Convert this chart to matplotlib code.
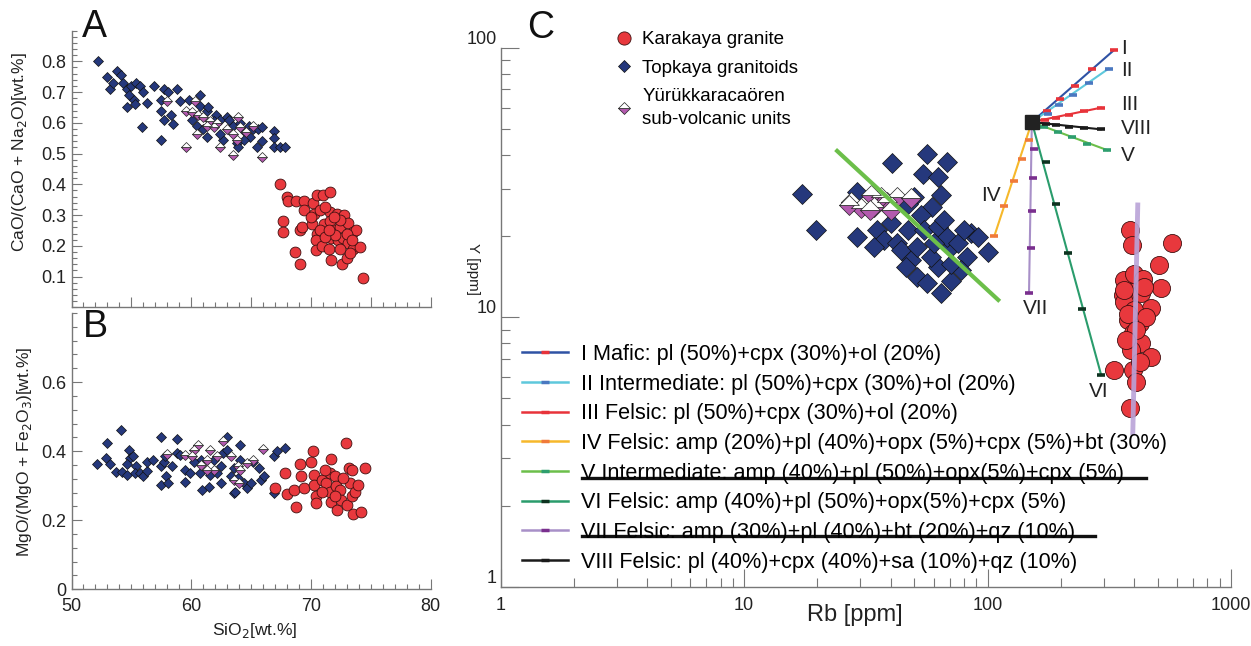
import numpy as np
import matplotlib.pyplot as plt
from matplotlib.lines import Line2D
from matplotlib.ticker import MultipleLocator, LogLocator, NullFormatter

plt.rcParams['font.family'] = ['Liberation Sans', 'DejaVu Sans']

# ---- panel A : SiO2 vs CaO/(CaO+Na2O) ----
topkaya_A = [(52.2, 0.80), (53.0, 0.75), (53.2, 0.71), (53.8, 0.77), (54.1, 0.755), (53.5, 0.73),
             (54.3, 0.73), (54.6, 0.71), (55.0, 0.72), (55.4, 0.73), (55.7, 0.72), (54.8, 0.69),
             (55.2, 0.675), (54.6, 0.65), (55.3, 0.66), (56.0, 0.70), (56.3, 0.665), (55.9, 0.585),
             (56.9, 0.72), (57.7, 0.71), (58.1, 0.70), (58.8, 0.71), (57.5, 0.675), (57.5, 0.64),
             (58.3, 0.625), (57.7, 0.61), (58.5, 0.595), (57.5, 0.545), (59.1, 0.67), (59.8, 0.675),
             (60.7, 0.69), (60.7, 0.655), (61.3, 0.64), (61.4, 0.65), (60.5, 0.59), (61.0, 0.58),
             (61.3, 0.555), (62.1, 0.625), (62.4, 0.61), (63.0, 0.62), (63.2, 0.61), (62.7, 0.545),
             (63.5, 0.59), (64.1, 0.60), (63.8, 0.535), (63.9, 0.52), (64.5, 0.57), (64.8, 0.59),
             (64.9, 0.555), (65.2, 0.58), (65.6, 0.58), (65.9, 0.585), (65.5, 0.52), (65.9, 0.54),
             (66.9, 0.575), (66.9, 0.55), (66.9, 0.52), (67.4, 0.52), (67.8, 0.52), (62.4, 0.565),
             (61.9, 0.605), (60.1, 0.61), (64.4, 0.545)]
subvolc_A = [(59.6, 0.52), (60.3, 0.67), (59.6, 0.64), (60.1, 0.635), (60.6, 0.625), (61.0, 0.62),
             (61.6, 0.605), (60.5, 0.565), (62.4, 0.52), (63.5, 0.495), (63.9, 0.62), (64.1, 0.585),
             (64.6, 0.57), (65.2, 0.59), (65.9, 0.49), (58.0, 0.67), (61.9, 0.585), (63.0, 0.58),
             (62.2, 0.60), (63.5, 0.565), (63.8, 0.545), (61.3, 0.59)]
karakaya_A = [(67.4, 0.40), (68.0, 0.36), (68.1, 0.345), (68.8, 0.345), (69.4, 0.345), (69.4, 0.315),
              (67.7, 0.28), (67.7, 0.245), (68.7, 0.18), (69.1, 0.14), (69.1, 0.25), (69.3, 0.26),
              (70.2, 0.34), (70.5, 0.365), (71.0, 0.365), (71.6, 0.375), (70.3, 0.305), (70.8, 0.315),
              (71.6, 0.31), (72.2, 0.305), (72.8, 0.30), (70.1, 0.27), (70.5, 0.24), (71.1, 0.27),
              (71.6, 0.28), (71.9, 0.25), (72.4, 0.26), (73.1, 0.275), (73.5, 0.245), (73.8, 0.25),
              (70.4, 0.22), (70.4, 0.185), (70.9, 0.20), (71.5, 0.19), (71.7, 0.225), (72.3, 0.22),
              (72.7, 0.225), (73.1, 0.21), (73.5, 0.19), (74.1, 0.195), (71.7, 0.155), (72.6, 0.14),
              (73.0, 0.16), (73.3, 0.175), (74.4, 0.095), (71.2, 0.325), (72.4, 0.285), (70.8, 0.25),
              (72.0, 0.235), (71.2, 0.23), (73.0, 0.24), (72.4, 0.19), (71.5, 0.25), (71.9, 0.295),
              (70.0, 0.295), (73.4, 0.22)]

# ---- panel B : SiO2 vs MgO/(MgO+Fe2O3) ----
topkaya_B = [(52.1, 0.362), (52.9, 0.38), (53.0, 0.425), (53.2, 0.363), (53.7, 0.341), (54.1, 0.46),
             (54.2, 0.341), (54.6, 0.33), (54.8, 0.404), (54.9, 0.38), (54.6, 0.363), (55.1, 0.385),
             (55.4, 0.356), (55.3, 0.338), (55.7, 0.336), (56.0, 0.327), (56.3, 0.343), (56.3, 0.37),
             (56.8, 0.375), (57.5, 0.44), (57.5, 0.356), (57.7, 0.37), (57.5, 0.302), (57.9, 0.327),
             (58.1, 0.307), (57.8, 0.385), (58.4, 0.356), (58.8, 0.435), (58.8, 0.394), (59.1, 0.39),
             (59.5, 0.346), (59.5, 0.31), (59.9, 0.336), (60.7, 0.336), (60.9, 0.288), (61.5, 0.296),
             (61.6, 0.331), (62.2, 0.336), (62.5, 0.356), (62.7, 0.394), (63.0, 0.44), (63.0, 0.404),
             (63.3, 0.327), (63.6, 0.351), (63.6, 0.278), (63.7, 0.283), (64.1, 0.418), (64.1, 0.375),
             (63.9, 0.322), (64.4, 0.307), (64.7, 0.293), (65.0, 0.307), (65.2, 0.37), (65.7, 0.351),
             (65.8, 0.317), (66.1, 0.327), (66.9, 0.386), (67.2, 0.399), (67.8, 0.409), (66.9, 0.28),
             (62.5, 0.307), (61.9, 0.375), (60.8, 0.375), (60.2, 0.37)]
subvolc_B = [(58.0, 0.392), (59.5, 0.389), (60.1, 0.385), (60.6, 0.418), (60.8, 0.36), (61.3, 0.375),
             (61.6, 0.404), (62.2, 0.385), (62.7, 0.428), (63.6, 0.317), (63.9, 0.356), (64.0, 0.307),
             (64.1, 0.346), (64.7, 0.365), (65.2, 0.375), (66.0, 0.406), (63.3, 0.385), (61.9, 0.346),
             (60.2, 0.404), (61.3, 0.346)]
karakaya_B = [(67.0, 0.293), (67.8, 0.336), (68.0, 0.276), (68.6, 0.288), (68.8, 0.237), (69.1, 0.363),
              (69.2, 0.327), (69.4, 0.293), (70.0, 0.37), (70.2, 0.401), (70.3, 0.331), (70.3, 0.302),
              (70.4, 0.269), (70.4, 0.249), (70.9, 0.317), (71.3, 0.309), (71.6, 0.336), (71.7, 0.377),
              (71.6, 0.283), (71.7, 0.254), (72.0, 0.327), (72.1, 0.298), (72.2, 0.23), (72.4, 0.288),
              (72.5, 0.259), (72.9, 0.425), (73.0, 0.244), (73.2, 0.351), (73.3, 0.307), (73.4, 0.344),
              (73.4, 0.269), (73.5, 0.218), (73.7, 0.283), (73.9, 0.302), (74.2, 0.225), (74.5, 0.351),
              (70.9, 0.283), (72.0, 0.269), (72.7, 0.322), (71.2, 0.346)]

# ---- panel C : Rb vs Y ----
topkaya_C = [(17.3, 28.6), (19.8, 21.0), (29.2, 29.2), (40.4, 37.2), (56.6, 40.3), (68.0, 37.7),
             (54.3, 34.1), (62.3, 33.2), (64.2, 28.4), (59.4, 25.7), (53.2, 23.9), (29.2, 19.9),
             (35.3, 21.1), (37.6, 19.3), (34.2, 18.3), (42.6, 18.8), (46.9, 21.1), (48.4, 16.3),
             (46.1, 15.4), (51.5, 14.1), (56.6, 13.4), (64.2, 12.3), (70.6, 13.6), (62.3, 15.4),
             (58.4, 16.8), (70.6, 18.3), (85.4, 20.5), (82.7, 16.8), (100.0, 17.5), (77.6, 15.0),
             (54.8, 21.1), (62.3, 21.7), (68.4, 19.9), (75.3, 18.8), (44.0, 17.7), (60.3, 18.8),
             (70.6, 15.8), (66.3, 22.9), (51.5, 18.3), (49.9, 28.0), (80.1, 21.1), (91.0, 19.9),
             (46.9, 26.4), (40.0, 22.3)]
subvolc_C = [(27.4, 26.8), (30.1, 25.4), (34.2, 25.7), (38.8, 26.8), (42.6, 28.0), (36.4, 28.0),
             (48.4, 27.6), (40.0, 24.9), (33.1, 28.4), (27.0, 26.0), (33.0, 25.0)]
karakaya_C = [(386, 21.0), (391, 18.5), (572, 18.8), (504, 15.6), (517, 12.8), (365, 13.7),
              (401, 14.5), (434, 13.9), (359, 12.1), (389, 12.4), (428, 12.3), (470, 10.8),
              (365, 11.4), (401, 10.6), (377, 9.78), (421, 9.51), (395, 8.73), (428, 8.01),
              (389, 7.57), (470, 7.15), (330, 6.38), (395, 6.38), (408, 5.77), (386, 4.60),
              (377, 10.3), (448, 10.05), (365, 12.6), (441, 13.0), (408, 8.98), (421, 6.85),
              (371, 8.24)]

# trend lines drawn across the sample groups
trend_rb = [24.1, 110.6]
trend_y = [41.4, 11.6]
karakaya_trend_rb = [414, 395]
karakaya_trend_y = [26.1, 3.73]

# fractional crystallisation vectors: common start, marks along each path
vector_start = (152, 53)
vector_names = ['I', 'II', 'III', 'IV', 'V', 'VI', 'VII', 'VIII']
vector_rb = [[175, 199, 229, 269, 330],
             [177, 197, 224, 262, 314],
             [172, 191, 217, 248, 292],
             [147.5, 138, 128, 117, 106.6],
             [171, 195, 222, 256, 310],
             [173, 191, 215, 244, 293],
             [155.5, 154, 152, 151, 148],
             [174, 191, 217, 250, 292]]
vector_y = [[58.1, 64.3, 72.4, 83.2, 97.8],
            [56.6, 61.1, 67.0, 74.0, 83.6],
            [54.1, 55.0, 56.5, 58.3, 59.9],
            [45.4, 38.5, 32.0, 25.8, 20.0],
            [50.6, 48.7, 46.6, 44.1, 41.7],
            [37.8, 26.3, 17.3, 10.7, 6.1],
            [42.0, 32.9, 24.8, 18.0, 12.3],
            [52.0, 51.5, 50.8, 50.4, 49.8]]
vector_label_rb = [354, 354, 354, 103, 354, 285, 157, 354]
vector_label_y = [99.3, 82.4, 61.6, 28.4, 39.9, 5.29, 10.8, 50.2]
vector_desc = ['I Mafic: pl (50%)+cpx (30%)+ol (20%)',
               'II Intermediate: pl (50%)+cpx (30%)+ol (20%)',
               'III Felsic: pl (50%)+cpx (30%)+ol (20%)',
               'IV Felsic: amp (20%)+pl (40%)+opx (5%)+cpx (5%)+bt (30%)',
               'V Intermediate: amp (40%)+pl (50%)+opx(5%)+cpx (5%)',
               'VI Felsic: amp (40%)+pl (50%)+opx(5%)+cpx (5%)',
               'VII Felsic: amp (30%)+pl (40%)+bt (20%)+qz (10%)',
               'VIII Felsic: pl (40%)+cpx (40%)+sa (10%)+qz (10%)']
line_colors = ['#2f52a4', '#5ec8dc', '#e8333a', '#f6b82b', '#6cbf4a', '#2a9c6c', '#a890c8', '#1a1a1a']
mark_colors = ['#e8333a', '#4a78c0', '#e8333a', '#f07a3a', '#2e9e6e', '#0d3320', '#7a2f8e', '#1a1a1a']

BLUE = '#25387c'
PINK = '#b35aae'
RED = '#e8383d'
AXC = '#777777'


def draw_groups(ax, topk, subv, kara, ms_d, ms_o):
    x, y = np.array(topk).T
    ax.plot(x, y, 'D', ls='none', ms=ms_d, mfc=BLUE, mec='#111111', mew=0.5)
    x, y = np.array(subv).T
    ax.plot(x, y, 'D', ls='none', ms=ms_d, fillstyle='bottom', mfc=PINK,
            markerfacecoloralt='white', mec='#222222', mew=0.5)
    x, y = np.array(kara).T
    ax.plot(x, y, 'o', ls='none', ms=ms_o, mfc=RED, mec='#401010', mew=0.6)


def style_axes(ax):
    for s in ['top', 'right']:
        ax.spines[s].set_visible(False)
    for s in ['left', 'bottom']:
        ax.spines[s].set_color(AXC)
        ax.spines[s].set_linewidth(1.0)
    ax.tick_params(which='both', direction='in', color=AXC, width=0.8, labelcolor='#222222')


W, H = 1251, 646
fig = plt.figure(figsize=(W / 100, H / 100), dpi=100)

# panel A
axA = fig.add_axes([71.5 / W, 1 - 307.3 / H, 359 / W, 276.7 / H])
draw_groups(axA, topkaya_A, subvolc_A, karakaya_A, 5.0, 7.8)
axA.set_xlim(50, 80)
axA.set_ylim(0, 0.9)
axA.set_yticks([0.1, 0.2, 0.3, 0.4, 0.5, 0.6, 0.7, 0.8])
axA.xaxis.set_minor_locator(MultipleLocator(1))
axA.yaxis.set_minor_locator(MultipleLocator(0.02))
style_axes(axA)
axA.tick_params(which='major', length=7, labelsize=13, pad=4)
axA.tick_params(which='minor', length=3.5)
axA.tick_params(axis='x', labelbottom=False)

# panel B
axB = fig.add_axes([71.5 / W, 1 - 589.3 / H, 359 / W, 276.3 / H])
draw_groups(axB, topkaya_B, subvolc_B, karakaya_B, 5.0, 7.8)
axB.set_xlim(50, 80)
axB.set_ylim(0, 0.8)
axB.set_xticks([50, 60, 70, 80])
axB.set_yticks([0, 0.2, 0.4, 0.6])
axB.set_yticklabels(['0', '0.2', '0.4', '0.6'])
axB.xaxis.set_minor_locator(MultipleLocator(1))
axB.yaxis.set_minor_locator(MultipleLocator(0.04))
style_axes(axB)
axB.tick_params(which='major', length=7, labelsize=13, pad=4)
axB.tick_params(axis='x', which='major', pad=6)
axB.tick_params(which='minor', length=3.5)

fig.text(20 / W, 1 - 152 / H, 'CaO/(CaO + Na$_2$O)[wt.%]', rotation=90,
         ha='center', va='center', fontsize=12.5, color='#222222')
fig.text(25 / W, 1 - 452 / H, 'MgO/(MgO + Fe$_2$O$_3$)[wt.%]', rotation=90,
         ha='center', va='center', fontsize=12.5, color='#222222')
fig.text(255 / W, 1 - 630 / H, 'SiO$_2$[wt.%]', ha='center', va='center',
         fontsize=12.5, color='#222222')

# panel C
axC = fig.add_axes([500.7 / W, 1 - 586.9 / H, 730.3 / W, 539.2 / H])
axC.set_xscale('log')
axC.set_yscale('log')
axC.set_xlim(1, 1000)
axC.set_ylim(1, 100)

x, y = np.array(topkaya_C).T
axC.plot(x, y, 'D', ls='none', ms=10, mfc=BLUE, mec='#111111', mew=0.5, zorder=3)
x, y = np.array(subvolc_C).T
axC.plot(x, y, 'D', ls='none', ms=10, fillstyle='bottom', mfc=PINK,
         markerfacecoloralt='white', mec='#222222', mew=0.5, zorder=3)
axC.plot(trend_rb, trend_y, color='#6cbf4a', lw=3, zorder=4)
x, y = np.array(karakaya_C).T
axC.plot(x, y, 'o', ls='none', ms=13, mfc=RED, mec='#401010', mew=0.6, zorder=3)
axC.plot(karakaya_trend_rb, karakaya_trend_y, color='#b9a3d8', lw=3.5, alpha=0.9, zorder=4)

for i, name in enumerate(vector_names):
    xs = [vector_start[0], vector_rb[i][-1]]
    ys = [vector_start[1], vector_y[i][-1]]
    axC.plot(xs, ys, color=line_colors[i], lw=1.5, zorder=5)
    axC.plot(vector_rb[i], vector_y[i], '_', ls='none', ms=6, mew=2.6,
             color=mark_colors[i], zorder=6)
    ha = 'left' if vector_label_rb[i] > 300 else 'center'
    axC.text(vector_label_rb[i], vector_label_y[i], name, ha=ha, va='center',
             fontsize=15, color='#222222')
axC.plot(*vector_start, 's', ms=10, color='#222222', zorder=7)

style_axes(axC)
axC.xaxis.set_major_locator(LogLocator(base=10, numticks=10))
axC.xaxis.set_minor_locator(LogLocator(base=10, subs=np.arange(2, 10), numticks=20))
axC.yaxis.set_minor_locator(LogLocator(base=10, subs=np.arange(2, 10), numticks=20))
axC.xaxis.set_minor_formatter(NullFormatter())
axC.yaxis.set_minor_formatter(NullFormatter())
axC.set_xticks([1, 10, 100, 1000])
axC.set_xticklabels(['1', '10', '100', '1000'])
axC.set_yticks([1, 10, 100])
axC.set_yticklabels(['1', '10', '100'])
axC.tick_params(which='major', length=13, labelsize=13)
axC.tick_params(axis='x', which='major', pad=7)
axC.tick_params(axis='y', which='major', pad=3)
axC.tick_params(which='minor', length=6.5)
for lab in axC.get_yticklabels():
    lab.set_va('bottom')
fig.text(855 / W, 1 - 615 / H, 'Rb [ppm]', ha='center', va='center', fontsize=17, color='#222222')
fig.text(473 / W, 1 - 269 / H, 'Y [ppm]', rotation=270, ha='center', va='center',
         fontsize=11, color='#222222')

# sample legend
sample_handles = [
    Line2D([], [], marker='o', ls='none', ms=9.5, mfc=RED, mec='#401010', mew=0.6),
    Line2D([], [], marker='D', ls='none', ms=6.5, mfc=BLUE, mec='#111111', mew=0.5),
    Line2D([], [], marker='D', ls='none', ms=6.5, fillstyle='bottom', mfc=PINK,
           markerfacecoloralt='white', mec='#222222', mew=0.5),
]
leg1 = fig.legend(sample_handles, ['Karakaya granite', 'Topkaya granitoids',
                                   'Yürükkaracaören\nsub-volcanic units'],
                  loc='upper left', bbox_to_anchor=(615 / W, 1 - 31 / H), frameon=False,
                  fontsize=13.5, handlelength=1.0, handletextpad=0.45, borderpad=0,
                  borderaxespad=0, labelspacing=0.62)
for t in leg1.get_texts():
    t.set_linespacing(1.45)

# vector legend
vec_handles = [Line2D([], [], color=line_colors[i], lw=1.8, marker='_', ms=6, mew=2.5,
                      mec=mark_colors[i]) for i in range(8)]
leg2 = fig.legend(vec_handles, vector_desc, loc='upper left',
                  bbox_to_anchor=(522 / W, 1 - 344 / H), frameon=False, fontsize=15.6,
                  handlelength=2.1, handletextpad=0.63, borderpad=0, borderaxespad=0,
                  labelspacing=0.4)

# underlines beneath two of the legend entries
fig.add_artist(Line2D([582 / W, 1146 / W], [1 - 478 / H, 1 - 478 / H], color='#111111', lw=2.4))
fig.add_artist(Line2D([582 / W, 1095 / W], [1 - 536 / H, 1 - 536 / H], color='#111111', lw=2.4))

# panel letters
fig.text(82 / W, 1 - 37 / H, 'A', fontsize=27, va='baseline', color='#111111')
fig.text(83 / W, 1 - 337 / H, 'B', fontsize=27, va='baseline', color='#111111')
fig.text(527 / W, 1 - 38 / H, 'C', fontsize=27, va='baseline', color='#111111')

fig.savefig('out.png', dpi=100)
